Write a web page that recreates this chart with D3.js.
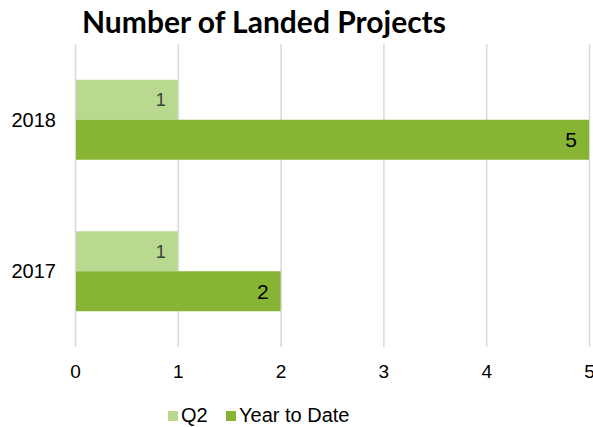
<!DOCTYPE html>
<html>
<head>
<meta charset="utf-8">
<script src="https://cdn.jsdelivr.net/npm/d3@7"></script>
<style>
  body { margin: 0; background: #fff; }
  text { font-family: Arial, "Liberation Sans", sans-serif; }
</style>
</head>
<body>
<div id="myChart"></div>
<script>
// Chart data
const years = ["2018", "2017"];
const q2 = [1, 1];
const ytd = [5, 2];
const seriesNames = ["Q2", "Year to Date"];
const xTicks = [0, 1, 2, 3, 4, 5];

const w = 593;
const h = 427;
const margin = {top: 44, left: 75, bottom: 80, right: 3};
const innerWidth = w - margin.left - margin.right;
const innerHeight = h - margin.top - margin.bottom;

const colors = ["#b8d98f", "#88b433"];

const svg = d3.select("#myChart")
  .append("svg")
    .attr("width", w)
    .attr("height", h);

// Title
svg.append("text")
  .attr("x", 82)
  .attr("y", 33)
  .style("font-family", "Lato, 'Open Sans', sans-serif")
  .style("font-weight", "bold")
  .style("font-size", "30px")
  .attr("fill", "#000")
  .text("Number of Landed Projects");

const mainG = svg.append("g")
  .attr("transform", `translate(${margin.left}, ${margin.top})`);

const xScale = d3.scaleLinear()
  .domain([0, 5])
  .range([0, 514]);

const yScale = d3.scaleBand()
  .domain(years)
  .range([0, innerHeight])
  .paddingInner(0.472)
  .paddingOuter(0.236);

const sub = d3.scaleBand()
  .domain(seriesNames)
  .range([0, yScale.bandwidth()]);

// Gridlines
const xAxis = d3.axisBottom(xScale).tickValues(xTicks).tickSize(-innerHeight).tickFormat(d3.format("d"));
const gx = mainG.append("g")
  .attr("transform", `translate(0,${innerHeight})`)
  .call(xAxis);
gx.select(".domain").remove();
gx.selectAll(".tick line").attr("stroke", "#d9d9d9").attr("stroke-width", 1.5);
gx.selectAll(".tick text")
  .attr("y", 18)
  .style("font-size", "19px")
  .attr("fill", "#000");

// Year labels
mainG.selectAll(".ylab")
  .data(years)
  .enter()
  .append("text")
    .attr("x", -19)
    .attr("y", d => yScale(d) + yScale.bandwidth() / 2)
    .attr("dy", "0.36em")
    .attr("text-anchor", "end")
    .style("font-size", "20px")
    .attr("fill", "#000")
    .text(d => d);

const rows = years.map((y, i) => ({year: y, values: [q2[i], ytd[i]]}));

const groups = mainG.selectAll(".grp")
  .data(rows)
  .enter()
  .append("g")
    .attr("transform", d => `translate(0,${yScale(d.year)})`);

groups.selectAll("rect")
  .data(d => d.values.map((v, j) => ({key: seriesNames[j], v, j})))
  .enter()
  .append("rect")
    .attr("x", xScale(0) + 1)
    .attr("y", d => sub(d.key))
    .attr("width", d => xScale(d.v) - xScale(0) - 1)
    .attr("height", sub.bandwidth())
    .attr("fill", d => colors[d.j]);

groups.selectAll(".lbl")
  .data(d => d.values.map((v, j) => ({key: seriesNames[j], v, j})))
  .enter()
  .append("text")
    .attr("x", d => xScale(d.v) - 12)
    .attr("y", d => sub(d.key) + sub.bandwidth() / 2)
    .attr("dy", "0.36em")
    .attr("text-anchor", "end")
    .style("font-size", d => d.j === 0 ? "18px" : "21px")
    .attr("fill", d => d.j === 0 ? "#404040" : "#000")
    .text(d => d.v);

// Legend
const legend = svg.append("g");
const legX = [168, 226];
seriesNames.forEach((name, i) => {
  legend.append("rect")
    .attr("x", legX[i])
    .attr("y", 411)
    .attr("width", 10)
    .attr("height", 10)
    .attr("fill", colors[i]);
  legend.append("text")
    .attr("x", legX[i] + 13)
    .attr("y", 422)
    .style("font-size", "20px")
    .attr("fill", "#000")
    .text(name);
});
</script>
</body>
</html>
